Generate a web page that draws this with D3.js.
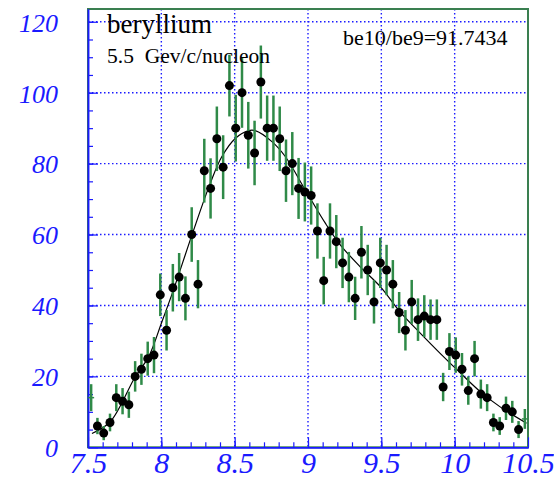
<!DOCTYPE html>
<meta charset="utf-8">
<title>beryllium</title>
<style>
body { margin: 0; background: white; }
svg { display: block; background: white; }
text { font-family: "Liberation Serif", "Times New Roman", serif; }
</style>
<svg width="554" height="479"></svg>
<script src="https://d3js.org/d3.v7.min.js"></script>
<script>
// histogram bins: 70 bins between 7.5 and 10.5
var xMin = 7.5, xMax = 10.5, nBins = 70
var counts = [14, 6, 4, 7, 14, 13, 12, 20, 22, 25, 26, 43, 33, 45, 48, 42, 60, 46, 78, 73,
  87, 79, 102, 90, 100, 88, 83, 103, 90, 90, 87, 78, 80, 73, 72, 71, 61, 47, 61, 58,
  52, 48, 42, 55, 50, 41, 52, 50, 46, 38, 33, 41, 36, 37, 36, 36, 17, 27, 26, 22,
  16, 25, 15, 14, 7, 6, 11, 10, 5, 8]
var errors = [3.8, 2.3, 2.0, 2.5, 3.8, 3.7, 3.7, 4.3, 4.4, 4.8, 5.1, 6.0, 5.7, 6.7, 6.8, 6.2, 7.7, 6.8, 9.0, 8.5,
  9.1, 9.0, 8.7, 9.4, 9.9, 9.4, 9.1, 10.3, 9.2, 9.2, 9.1, 8.8, 8.9, 8.6, 8.3, 8.2, 7.8, 6.7, 7.8, 7.5,
  7.1, 7.1, 6.1, 7.4, 7.1, 6.1, 7.1, 7.1, 6.8, 5.8, 5.7, 6.2, 6.0, 5.9, 5.7, 5.7, 4.0, 5.2, 5.0, 4.6,
  4.0, 5.0, 4.1, 3.8, 2.5, 2.5, 3.3, 3.1, 2.4, 2.8]

// fitted curve
var fitX = [7.527, 7.652, 7.822, 7.913, 8.004, 8.083, 8.209, 8.334, 8.413, 8.504, 8.595, 8.64, 8.754,
  8.845, 8.981, 9.118, 9.22, 9.356, 9.493, 9.629, 9.765, 9.901, 10.04, 10.174, 10.31, 10.49]
var fitY = [3.9, 7.2, 19.9, 25.5, 35.4, 44.4, 59.9, 74.5, 82.0, 87.1, 89.3, 89.3, 86.2,
  82.0, 72.6, 63.2, 57.1, 50.9, 45.3, 38.1, 32.2, 26.5, 20.9, 15.7, 11.4, 6.8]

var xMajor = [7.5, 8, 8.5, 9, 9.5, 10, 10.5]
var yMajor = [0, 20, 40, 60, 80, 100, 120]
var yTop = 123.6

var svg = d3.select("svg"),
  padL = 88, padR = 528, padT = 9, padB = 447.3

var x = d3.scaleLinear().domain([xMin, xMax]).range([padL, padR])
var y = d3.scaleLinear().domain([0, yTop]).range([padB, padT])

var binW = (xMax - xMin) / nBins
var points = counts.map((c, i) => ({ x: xMin + (i + 0.5) * binW, y: c, e: errors[i], i: i }))

// grid
var grid = svg.append("g").attr("stroke", "#1a1aff").attr("stroke-width", 1.4).attr("stroke-dasharray", "1.5,2.5")
grid.selectAll("line.gx").data(xMajor.slice(1, -1)).enter().append("line")
  .attr("x1", d => x(d)).attr("x2", d => x(d)).attr("y1", padT).attr("y2", padB)
grid.selectAll("line.gy").data(yMajor.slice(1)).enter().append("line")
  .attr("x1", padL).attr("x2", padR).attr("y1", d => y(d)).attr("y2", d => y(d))

// frame
svg.append("rect").attr("x", padL).attr("y", padT).attr("width", padR - padL).attr("height", padB - padT)
  .attr("fill", "none").attr("stroke", "#3a7f50").attr("stroke-width", 2)

// axes
var xAxis = svg.append("g").attr("transform", "translate(0," + padB + ")")
  .call(d3.axisBottom(x).tickValues(xMajor).tickSizeInner(-10).tickSizeOuter(0).tickFormat(d => String(d)))
svg.append("g").attr("transform", "translate(0," + padB + ")")
  .call(d3.axisBottom(x).tickValues(d3.range(76, 105).map(v => v / 10)).tickSizeInner(-5).tickSizeOuter(0).tickFormat(""))
var yAxis = svg.append("g").attr("transform", "translate(" + padL + ",0)")
  .call(d3.axisLeft(y).tickValues(yMajor).tickSizeInner(-10).tickSizeOuter(0).tickFormat(d => String(d)))
svg.append("g").attr("transform", "translate(" + padL + ",0)")
  .call(d3.axisLeft(y).tickValues(d3.range(5, 124, 5)).tickSizeInner(-5).tickSizeOuter(0).tickFormat(""))

svg.selectAll(".domain").attr("stroke", "#1a1aff").attr("stroke-width", 1.5)
svg.selectAll(".tick line").attr("stroke", "#1a1aff").attr("stroke-width", 1.2)

xAxis.selectAll("text").attr("y", 26).attr("dy", 0)
  .attr("fill", "#1a1aff").attr("font-size", 30).attr("font-style", "italic")
  .attr("font-family", "Liberation Serif")
yAxis.selectAll("text").attr("x", -30).attr("dy", "0.36em")
  .attr("fill", "#1a1aff").attr("font-size", 26).attr("font-style", "italic")
  .attr("font-family", "Liberation Serif")

// fit
var line = d3.line().x((d, i) => x(d)).y((d, i) => y(fitY[i])).curve(d3.curveCatmullRom)
svg.append("path").datum(fitX).attr("d", line)
  .attr("fill", "none").attr("stroke", "black").attr("stroke-width", 1.2)

// error bars
svg.append("g").selectAll("line").data(points).enter().append("line")
  .attr("x1", d => x(d.x)).attr("x2", d => x(d.x))
  .attr("y1", d => y(d.y - d.e)).attr("y2", d => y(d.y + d.e))
  .attr("stroke", "#2f8a48").attr("stroke-width", 2.5)

// edge bins only show a small cross
var edge = points.filter(d => d.i == 0 || d.i == nBins - 1)
svg.append("g").selectAll("line").data(edge).enter().append("line")
  .attr("x1", d => x(d.x) - 3).attr("x2", d => x(d.x) + 3)
  .attr("y1", d => y(d.y)).attr("y2", d => y(d.y))
  .attr("stroke", "#2f8a48").attr("stroke-width", 1.5)

svg.append("g").selectAll("circle").data(points.filter(d => d.i > 0 && d.i < nBins - 1)).enter().append("circle")
  .attr("cx", d => x(d.x)).attr("cy", d => y(d.y)).attr("r", 4.5).attr("fill", "black")

// texts
svg.append("text").attr("x", 107).attr("y", 33).attr("font-size", 27).text("beryllium")
svg.append("text").attr("x", 107).attr("y", 63).attr("font-size", 21.5).attr("xml:space", "preserve")
  .style("white-space", "pre").text("5.5  Gev/c/nucleon")
svg.append("text").attr("x", 343).attr("y", 45).attr("font-size", 22).text("be10/be9=91.7434")
</script>
